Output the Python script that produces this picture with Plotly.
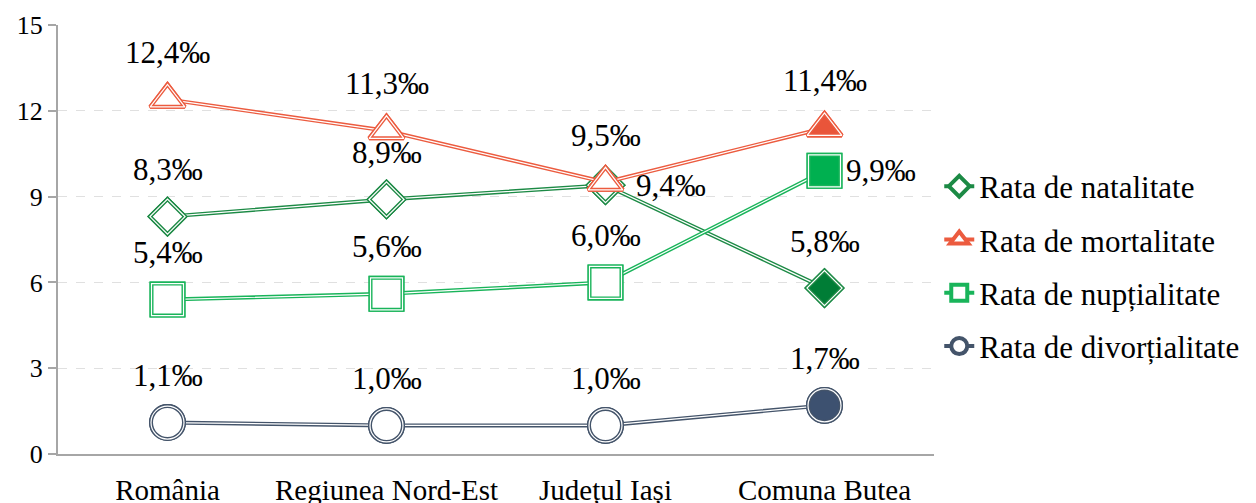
import plotly.graph_objects as go

categories = ["România", "Regiunea Nord-Est", "Județul Iași", "Comuna Butea"]
series_names = ["Rata de natalitate", "Rata de mortalitate", "Rata de nupțialitate", "Rata de divorțialitate"]
natalitate = [8.3, 8.9, 9.4, 5.8]
mortalitate = [12.4, 11.3, 9.5, 11.4]
nuptialitate = [5.4, 5.6, 6.0, 9.9]
divortialitate = [1.1, 1.0, 1.0, 1.7]
y_ticks = [0, 3, 6, 9, 12, 15]

values = [natalitate, mortalitate, nuptialitate, divortialitate]

# style per series: line colour, fill of last point, symbol, size
styles = [
    ("#1C8A45", "#007D36", "diamond", 27),
    ("#EC5B3F", "#E9553A", "triangle-up", 30),
    ("#19B45A", "#00B050", "square", 32),
    ("#44546A", "#3D5170", "circle", 33),
]

# labels that sit right of the point instead of above (pixel shift)
label_right = {(0, 2): 28, (2, 3): 19}

font = "Liberation Serif, Times New Roman, serif"
fig = go.Figure()

for i, (name, vals) in enumerate(zip(series_names, values)):
    col, fill, sym, size = styles[i]
    fills = ["white"] * (len(vals) - 1) + [fill]
    fig.add_trace(go.Scatter(
        x=categories, y=vals, mode="lines+markers", name=name,
        legendgroup=name, showlegend=True,
        line=dict(color=col, width=4),
        marker=dict(symbol=sym, size=size, color=fills, line=dict(color=col, width=4)),
    ))
    fig.add_trace(go.Scatter(
        x=categories, y=vals, mode="lines", legendgroup=name, showlegend=False,
        line=dict(color="white", width=1.2), hoverinfo="skip",
    ))
    fig.add_trace(go.Scatter(
        x=categories, y=vals, mode="markers", legendgroup=name, showlegend=False,
        marker=dict(symbol=sym, size=size, color=fills, line=dict(color=col, width=4)),
        hoverinfo="skip",
    ))
    fig.add_trace(go.Scatter(
        x=categories, y=vals, mode="markers", legendgroup=name, showlegend=False,
        marker=dict(symbol=sym, size=size, color="rgba(0,0,0,0)", line=dict(color="white", width=1.2)),
        hoverinfo="skip",
    ))
    for j, v in enumerate(vals):
        txt = f"{v:.1f}".replace(".", ",") + "‰"
        if (i, j) in label_right:
            fig.add_annotation(x=categories[j], y=v, text=txt, showarrow=False,
                               xanchor="left", yanchor="middle", xshift=label_right[(i, j)],
                               font=dict(family=font, size=31, color="black"))
        else:
            fig.add_annotation(x=categories[j], y=v, text=txt, showarrow=False,
                               xanchor="center", yanchor="middle", yshift=47,
                               font=dict(family=font, size=31, color="black"))

# the page body has an 8px margin, so the figure is drawn 8px smaller
fig.update_layout(
    width=1248, height=495,
    margin=dict(l=50, r=313, t=17, b=49),
    paper_bgcolor="white", plot_bgcolor="white",
    font=dict(family=font, size=27, color="black"),
    legend=dict(x=1.006, y=0.437, xanchor="left", yanchor="middle",
                font=dict(family=font, size=31), tracegroupgap=10,
                bgcolor="rgba(0,0,0,0)"),
)
fig.update_xaxes(range=[-0.5, 3.5], showline=True, linecolor="#A6A6A6", linewidth=2, showgrid=False,
                 ticks="", tickfont=dict(family=font, size=29), ticklabelstandoff=9,
                 automargin=False)
fig.update_yaxes(range=[0, 15], tickvals=y_ticks, showline=True, linecolor="#A6A6A6", linewidth=2,
                 ticks="outside", ticklen=8, tickcolor="#A6A6A6", tickwidth=2,
                 showgrid=True, gridcolor="#E0E0E0", griddash="dash", gridwidth=1,
                 zeroline=False, tickfont=dict(family=font, size=26), automargin=False)

fig.write_html("out.html")
